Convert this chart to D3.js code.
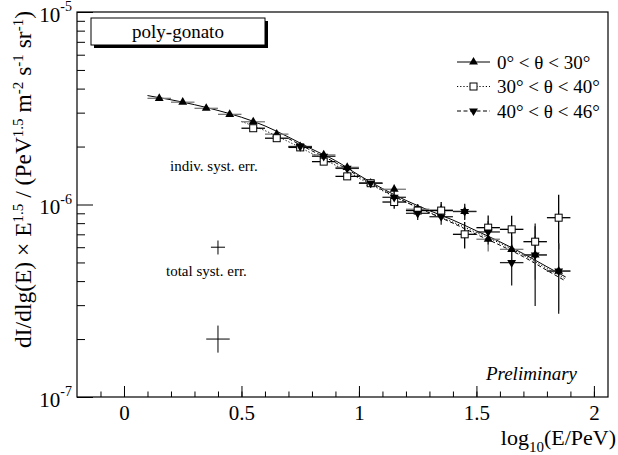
<!DOCTYPE html>
<html>
<head>
<meta charset="utf-8">
<script src="https://cdn.jsdelivr.net/npm/d3@7"></script>
<style>
  body { margin: 0; background: #fff; }
  svg { display: block; font-family: "Liberation Serif", "DejaVu Serif", serif; }
</style>
</head>
<body>
<div id="chart"></div>
<script>
// bin centres, log10(E/PeV)
const xUp = [0.15,0.25,0.35,0.45,0.55,0.65,0.75,0.85,0.95,1.05,1.15,1.25,1.35,1.45,1.55,1.65,1.75,1.85];
const yUp = [3.56,3.40,3.16,2.94,2.69,2.32,2.00,1.81,1.56,1.29,1.20,0.945,0.936,0.92,0.66,0.585,0.547,0.451];
const eUp = [0.04,0.04,0.04,0.04,0.04,0.04,0.04,0.04,0.05,0.05,0.07,0.06,0.07,0.08,0.09,0.10,0.14,0.17];

const xSq = [0.55,0.65,0.75,0.85,0.95,1.05,1.15,1.25,1.35,1.45,1.55,1.65,1.75,1.85];
const ySq = [2.49,2.21,1.98,1.67,1.40,1.29,1.03,0.93,0.93,0.70,0.758,0.743,0.641,0.854];
const eSq = [0.04,0.04,0.04,0.05,0.05,0.06,0.08,0.07,0.10,0.11,0.12,0.13,0.13,0.27];

const xDn = [0.75,0.85,0.95,1.05,1.15,1.25,1.35,1.45,1.55,1.65,1.75,1.85];
const yDn = [2.00,1.78,1.54,1.29,1.09,0.90,0.864,0.92,0.72,0.499,0.547,0.451];
const eDn = [0.04,0.05,0.05,0.06,0.08,0.07,0.08,0.09,0.10,0.12,0.25,0.18];

// fitted curves (units of 1e-6)
const fitSolidX = [0.10,0.20,0.30,0.40,0.50,0.60,0.70,0.80,0.90,1.00,1.10,1.20,1.30,1.40,1.50,1.60,1.70,1.80,1.88];
const fitSolidY = [3.68,3.50,3.30,3.08,2.84,2.56,2.24,1.94,1.69,1.42,1.21,1.05,0.93,0.83,0.73,0.64,0.555,0.475,0.42];
const fitDotX = [0.50,0.60,0.70,0.80,0.90,1.00,1.10,1.20,1.30,1.40,1.50,1.60,1.70,1.80,1.88];
const fitDotY = [2.70,2.42,2.12,1.84,1.60,1.37,1.18,1.03,0.91,0.81,0.715,0.63,0.545,0.465,0.41];
const fitDashX = [0.70,0.80,0.90,1.00,1.10,1.20,1.30,1.40,1.50,1.60,1.70,1.80,1.88];
const fitDashY = [2.20,1.90,1.65,1.40,1.19,1.03,0.905,0.80,0.70,0.615,0.535,0.455,0.40];

const legendLabels = ['0° < θ < 30°', '30° < θ < 40°', '40° < θ < 46°'];
const xMajor = [0, 0.5, 1, 1.5, 2];
const yMajor = [1e-7, 1e-6, 1e-5];

const W = 618, H = 455;
const frame = {left: 77, right: 608, top: 12, bottom: 397};

const svg = d3.select('#chart').append('svg')
    .attr('width', W)
    .attr('height', H);

svg.append('rect').attr('width', W).attr('height', H).attr('fill', '#fff');

const x = d3.scaleLinear().domain([-0.2, 2.06]).range([frame.left, frame.right]);
const y = d3.scaleLog().domain([1e-7, 1e-5]).range([frame.bottom, frame.top]);

// axes, ticks inside the frame like ROOT
const xMinor = d3.range(-0.1, 2.05, 0.1).map(v => +v.toFixed(2));
svg.append('g')
    .attr('transform', `translate(0,${frame.bottom})`)
    .call(d3.axisBottom(x).tickValues(xMinor).tickSize(-5.5).tickFormat(''))
    .call(g => g.select('.domain').remove());

const xAxis = svg.append('g')
    .attr('transform', `translate(0,${frame.bottom})`)
    .call(d3.axisBottom(x).tickValues(xMajor).tickSize(-11).tickPadding(8).tickFormat(d3.format('')))
    .call(g => g.select('.domain').remove());
xAxis.selectAll('text').attr('font-size', 21).attr('font-family', 'Liberation Serif').attr('fill', '#000');

const yMinorVals = [];
[1e-7, 1e-6].forEach(dec => { for (let k = 2; k <= 9; k++) yMinorVals.push(dec * k); });
svg.append('g')
    .attr('transform', `translate(${frame.left},0)`)
    .call(d3.axisLeft(y).tickValues(yMinorVals).tickSize(-8).tickFormat(''))
    .call(g => g.select('.domain').remove());

const yAxis = svg.append('g')
    .attr('transform', `translate(${frame.left},0)`)
    .call(d3.axisLeft(y).tickValues(yMajor).tickSize(-16).tickPadding(5))
    .call(g => g.select('.domain').remove());
yAxis.selectAll('.tick text')
    .attr('font-size', 21)
    .attr('font-family', 'Liberation Serif')
    .attr('fill', '#000')
    .attr('dy', '0.45em')
    .each(function(d) {
      const t = d3.select(this).text(null);
      t.append('tspan').text('10');
      t.append('tspan').attr('font-size', 14).attr('dy', '-0.75em').text(String(Math.round(Math.log10(d))));
    });
svg.selectAll('.tick line').attr('stroke', '#000');

svg.append('rect')
    .attr('x', frame.left).attr('y', frame.top)
    .attr('width', frame.right - frame.left).attr('height', frame.bottom - frame.top)
    .attr('fill', 'none').attr('stroke', '#000').attr('stroke-width', 1.2);

// axis titles
const xt = svg.append('text')
    .attr('x', 616).attr('y', 445)
    .attr('text-anchor', 'end')
    .attr('font-size', 22);
xt.append('tspan').text('log');
xt.append('tspan').attr('font-size', 15).attr('dy', 7).text('10');
xt.append('tspan').attr('dy', -7).text('(E/PeV)');

const yt = svg.append('text')
    .attr('transform', 'translate(31,11) rotate(-90)')
    .attr('text-anchor', 'end')
    .attr('font-size', 23.5);
const sup = (s) => { yt.append('tspan').attr('font-size', 15).attr('dy', -8.5).text(s); };
const norm = (s) => { yt.append('tspan').attr('dy', 8.5).text(s); };
yt.append('tspan').text('dI/dlg(E) × E');
sup('1.5'); norm(' / (PeV');
sup('1.5'); norm(' m');
sup('-2'); norm(' s');
sup('-1'); norm(' sr');
sup('-1'); norm(')');

// fit curves
const line = d3.line().x(d => x(d[0])).y(d => y(d[1] * 1e-6)).curve(d3.curveMonotoneX);
const fits = [
  {xs: fitSolidX, ys: fitSolidY, dash: null},
  {xs: fitDotX, ys: fitDotY, dash: '1.2,2'},
  {xs: fitDashX, ys: fitDashY, dash: '4,2.5'}
];
fits.forEach(f => {
  svg.append('path')
      .datum(f.xs.map((v, i) => [v, f.ys[i]]))
      .attr('d', line)
      .attr('fill', 'none')
      .attr('stroke', '#000')
      .attr('stroke-width', 1)
      .attr('stroke-dasharray', f.dash);
});

// data series
const series = [
  {xs: xUp, ys: yUp, es: eUp, marker: 'up', errColor: '#777'},
  {xs: xSq, ys: ySq, es: eSq, marker: 'sq', errColor: '#000'},
  {xs: xDn, ys: yDn, es: eDn, marker: 'dn', errColor: '#222'}
];

const triPath = d3.symbol(d3.symbolTriangle, 34)();

function drawMarker(g, kind, cx, cy) {
  if (kind === 'sq') {
    g.append('rect')
        .attr('x', cx - 3.5).attr('y', cy - 3.5)
        .attr('width', 7).attr('height', 7)
        .attr('fill', '#fff').attr('stroke', '#000').attr('stroke-width', 1);
  } else {
    g.append('path')
        .attr('d', triPath)
        .attr('transform', `translate(${cx},${cy})` + (kind === 'dn' ? ' rotate(180)' : ''))
        .attr('fill', '#000');
  }
}

series.forEach(s => {
  const g = svg.append('g');
  s.xs.forEach((xv, i) => {
    const v = s.ys[i] * 1e-6, e = s.es[i] * 1e-6;
    g.append('line')
        .attr('x1', x(xv - 0.05)).attr('x2', x(xv + 0.05))
        .attr('y1', y(v)).attr('y2', y(v))
        .attr('stroke', s.errColor).attr('stroke-width', 1.3);
    g.append('line')
        .attr('x1', x(xv)).attr('x2', x(xv))
        .attr('y1', y(v + e)).attr('y2', y(v - e))
        .attr('stroke', s.errColor).attr('stroke-width', 1.3);
  });
});
series.forEach(s => {
  const g = svg.append('g');
  s.xs.forEach((xv, i) => drawMarker(g, s.marker, x(xv), y(s.ys[i] * 1e-6)));
});

// systematic error crosses
const syst = [
  {label: 'indiv. syst. err.', cx: 0.4, cy: 6.0e-7, hi: 6.5e-7, lo: 5.5e-7, dx: 0.03, tx: 170, ty: 171},
  {label: 'total syst. err.', cx: 0.4, cy: 2.0e-7, hi: 2.35e-7, lo: 1.7e-7, dx: 0.05, tx: 166, ty: 276}
];
syst.forEach(s => {
  svg.append('line')
      .attr('x1', x(s.cx - s.dx)).attr('x2', x(s.cx + s.dx))
      .attr('y1', y(s.cy)).attr('y2', y(s.cy))
      .attr('stroke', '#000');
  svg.append('line')
      .attr('x1', x(s.cx)).attr('x2', x(s.cx))
      .attr('y1', y(s.hi)).attr('y2', y(s.lo))
      .attr('stroke', '#000');
  svg.append('text')
      .attr('x', s.tx).attr('y', s.ty)
      .attr('font-size', 15)
      .text(s.label);
});

// poly-gonato box with shadow
svg.append('rect').attr('x', 94).attr('y', 21).attr('width', 174).attr('height', 27).attr('fill', '#000');
svg.append('rect').attr('x', 91).attr('y', 18).attr('width', 174).attr('height', 27)
    .attr('fill', '#fff').attr('stroke', '#000').attr('stroke-width', 1);
svg.append('text')
    .attr('x', 178).attr('y', 38)
    .attr('text-anchor', 'middle')
    .attr('font-size', 19)
    .text('poly-gonato');

// legend
const legend = svg.append('g').attr('transform', 'translate(457,62)');
const legendDash = [null, '1.2,2', '4,2.5'];
const legendMarker = ['up', 'sq', 'dn'];
legendLabels.forEach((lab, i) => {
  const yy = i * 24.5;
  legend.append('line')
      .attr('x1', 0).attr('x2', 33).attr('y1', yy).attr('y2', yy)
      .attr('stroke', '#000').attr('stroke-dasharray', legendDash[i]);
  drawMarker(legend, legendMarker[i], 16.5, yy);
  legend.append('text')
      .attr('x', 40).attr('y', yy + 6.5)
      .attr('font-size', 19)
      .text(lab);
});

svg.append('text')
    .attr('x', 577).attr('y', 380)
    .attr('text-anchor', 'end')
    .attr('font-size', 19)
    .attr('font-style', 'italic')
    .text('Preliminary');
</script>
</body>
</html>
